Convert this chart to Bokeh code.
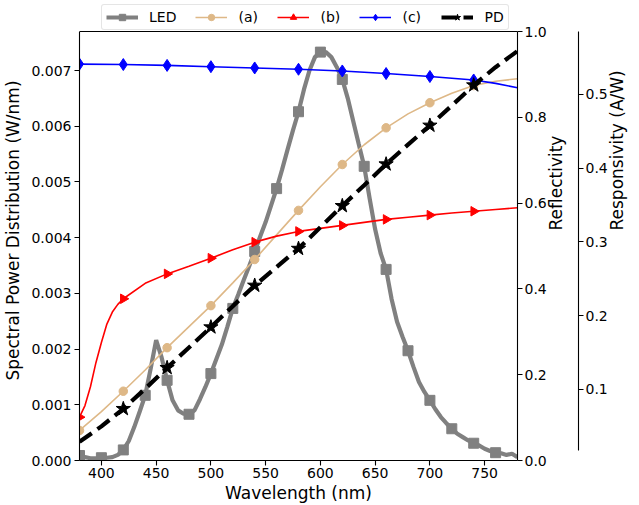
import numpy as np
from bokeh.plotting import figure
from bokeh.models import (Range1d, LinearAxis, FixedTicker, PrintfTickFormatter,
                          Legend, LegendItem, Span)
from bokeh.embed import file_html
from bokeh.resources import INLINE

# ---- data -------------------------------------------------------------
# LED spectral power distribution (W/nm), 5 nm grid
led_wl = list(range(380, 781, 5))
led_spd = [0.00009, 0.00006, 0.00004, 0.00004, 0.00005, 0.00005, 0.00006, 0.00010,
           0.00019, 0.00035, 0.00060, 0.00088, 0.00117, 0.00165, 0.00216, 0.00185,
           0.00144, 0.00108, 0.00090, 0.00084, 0.00083, 0.00090, 0.00110, 0.00132,
           0.00156, 0.00182, 0.00208, 0.00240, 0.00273, 0.00298, 0.00324, 0.00349,
           0.00375, 0.00402, 0.00428, 0.00458, 0.00488, 0.00522, 0.00558, 0.00593,
           0.00626, 0.00666, 0.00700, 0.00724, 0.00733, 0.00733, 0.00724, 0.00706,
           0.00684, 0.00650, 0.00609, 0.00568, 0.00528, 0.00470, 0.00415, 0.00372,
           0.00343, 0.00290, 0.00249, 0.00222, 0.00197, 0.00168, 0.00141, 0.00123,
           0.00108, 0.00092, 0.00078, 0.00067, 0.00057, 0.00048, 0.00042, 0.00036,
           0.00031, 0.00027, 0.00021, 0.00017, 0.00014, 0.00013, 0.00010, 0.00012,
           0.00006]

# Reflectivity of samples (a), (b), (c)
a_wl = [380, 400, 420, 440, 460, 480, 500, 520, 540, 560, 580,
        600, 620, 640, 660, 680, 700, 720, 740, 760, 780]
a_refl = [0.070, 0.114, 0.1615, 0.211, 0.263, 0.312, 0.361, 0.414, 0.4685, 0.526, 0.583,
          0.638, 0.690, 0.736, 0.7755, 0.808, 0.834, 0.856, 0.874, 0.884, 0.890]

b_wl = [380, 385, 390, 395, 400, 405, 410, 415, 420, 440, 460, 480, 500, 520, 540,
        560, 580, 600, 620, 640, 660, 680, 700, 720, 740, 760, 780]
b_refl = [0.101, 0.128, 0.172, 0.228, 0.275, 0.318, 0.346, 0.364, 0.377, 0.413, 0.435,
          0.453, 0.4716, 0.491, 0.509, 0.523, 0.534, 0.541, 0.548, 0.555, 0.562,
          0.567, 0.572, 0.577, 0.581, 0.585, 0.589]

c_wl = [380, 420, 460, 500, 540, 580, 620, 660, 700, 740, 760, 780]
c_refl = [0.924, 0.923, 0.921, 0.918, 0.915, 0.912, 0.908, 0.902, 0.895, 0.887, 0.879, 0.869]

# Photodiode responsivity (A/W)
pd_wl = [380, 400, 420, 440, 460, 480, 500, 520, 540, 560, 580,
         600, 620, 640, 660, 680, 700, 720, 740, 760, 780]
pd_resp = [0.029, 0.050, 0.0738, 0.101, 0.1294, 0.157, 0.1845, 0.213, 0.241, 0.266, 0.291,
           0.320, 0.349, 0.377, 0.4055, 0.432, 0.458, 0.485, 0.5126, 0.537, 0.559]

x_ticks = [400, 450, 500, 550, 600, 650, 700, 750]
spd_ticks = [0.000, 0.001, 0.002, 0.003, 0.004, 0.005, 0.006, 0.007]
refl_ticks = [0.0, 0.2, 0.4, 0.6, 0.8, 1.0]
resp_ticks = [0.1, 0.2, 0.3, 0.4, 0.5]

# axis limits of the boxed data area
SPD_MAX = 0.0077
REFL_MAX = 1.0
RESP_LO, RESP_HI = 0.0037, 0.5854
RESP_SPINE = (0.0173, 0.5854)

# the canvas above the box holds the legend: box is 429 px tall, canvas area 460 px
EXTEND = 460 / 429


def every(wl, vals, step, start):
    """Pick the samples where markers are drawn."""
    wl = np.asarray(wl)
    vals = np.asarray(vals)
    m = ((wl - start) % step == 0) & (wl >= start) & (wl < 780)
    return wl[m].tolist(), vals[m].tolist()


FONT = "DejaVu Sans"
TICK_FS = "14px"
LABEL_FS = "17px"

p = figure(width=639, height=505, output_backend="svg", toolbar_location=None,
           x_range=Range1d(380, 780), y_range=Range1d(0, SPD_MAX * EXTEND),
           min_border_left=75, min_border_right=116, min_border_top=0,
           min_border_bottom=45)
p.xgrid.visible = False
p.ygrid.visible = False
p.outline_line_color = None
p.background_fill_color = "white"

p.extra_y_ranges = {
    "refl": Range1d(0, REFL_MAX * EXTEND),
    "resp": Range1d(RESP_LO, RESP_LO + (RESP_HI - RESP_LO) * EXTEND),
}


def style_axis(ax):
    ax.axis_line_color = "black"
    ax.axis_line_width = 1.1
    ax.major_tick_line_color = "black"
    ax.major_tick_line_width = 1.1
    ax.major_tick_out = 5
    ax.major_tick_in = 0
    ax.minor_tick_line_color = None
    ax.major_label_text_font = FONT
    ax.major_label_text_font_size = TICK_FS
    ax.major_label_text_color = "black"
    ax.major_label_standoff = 3
    ax.axis_label_text_font = FONT
    ax.axis_label_text_font_size = LABEL_FS
    ax.axis_label_text_font_style = "normal"
    ax.axis_label_text_color = "black"
    ax.axis_label_standoff = 2


def read_upwards(ax):
    # right-hand axis titles read from bottom to top; such a title is centred on
    # its standoff point, so it needs a few extra pixels of standoff
    ax.major_label_standoff = 2
    if hasattr(ax, "axis_label_orientation"):
        ax.axis_label_orientation = np.pi / 2
        ax.axis_label_standoff = 6


xa = p.xaxis[0]
style_axis(xa)
xa.ticker = FixedTicker(ticks=x_ticks)
xa.axis_label = "Wavelength (nm)"
xa.major_label_standoff = 2

ya = p.yaxis[0]
style_axis(ya)
ya.ticker = FixedTicker(ticks=spd_ticks)
ya.formatter = PrintfTickFormatter(format="%.3f")
ya.axis_label = "Spectral Power Distribution (W/nm)"
ya.axis_label_standoff = 5
ya.bounds = (0, SPD_MAX)

refl_axis = LinearAxis(y_range_name="refl", axis_label="Reflectivity",
                       bounds=(0, REFL_MAX))
style_axis(refl_axis)
refl_axis.ticker = FixedTicker(ticks=refl_ticks)
refl_axis.formatter = PrintfTickFormatter(format="%.1f")
read_upwards(refl_axis)
p.add_layout(refl_axis, "right")

resp_axis = LinearAxis(y_range_name="resp", axis_label="Responsivity (A/W)",
                       bounds=RESP_SPINE)
style_axis(resp_axis)
resp_axis.ticker = FixedTicker(ticks=resp_ticks)
resp_axis.formatter = PrintfTickFormatter(format="%.1f")
read_upwards(resp_axis)
p.add_layout(resp_axis, "right")

# top edge of the box
p.add_layout(Span(location=SPD_MAX, dimension="width", line_color="black",
                  line_width=1.1))

# ---- series -------------------------------------------------------------
GRAY = "#808080"
TAN = "#deb887"

led_line = p.line(led_wl, led_spd, line_color=GRAY, line_width=4.2)
mx, my = every(led_wl, led_spd, 20, 380)
led_pts = p.scatter(mx, my, marker="square", size=10, fill_color=GRAY, line_color=GRAY)

a_line = p.line(a_wl, a_refl, y_range_name="refl", line_color=TAN, line_width=1.6)
mx, my = every(a_wl, a_refl, 40, 380)
a_pts = p.scatter(mx, my, y_range_name="refl", marker="circle", size=8.5,
                  fill_color=TAN, line_color=TAN)

b_line = p.line(b_wl, b_refl, y_range_name="refl", line_color="red", line_width=1.6)
mx, my = every(b_wl, b_refl, 40, 380)
b_pts = p.scatter(mx, my, y_range_name="refl", marker="triangle", angle=-np.pi / 2,
                  size=9.5, fill_color="red", line_color="red")

c_line = p.line(c_wl, c_refl, y_range_name="refl", line_color="blue", line_width=1.6)
mx, my = every(c_wl, c_refl, 40, 380)
c_pts = p.scatter(mx, my, y_range_name="refl", marker="diamond", size=12,
                  fill_color="blue", line_color="blue")

pd_line = p.line(pd_wl, pd_resp, y_range_name="resp", line_color="black",
                 line_width=4.2, line_dash="15 7")
mx, my = every(pd_wl, pd_resp, 40, 420)
pd_pts = p.scatter(mx, my, y_range_name="resp", marker="star", size=15,
                   fill_color="black", line_color="black")

legend = Legend(items=[
    LegendItem(label="LED", renderers=[led_line, led_pts]),
    LegendItem(label="(a)", renderers=[a_line, a_pts]),
    LegendItem(label="(b)", renderers=[b_line, b_pts]),
    LegendItem(label="(c)", renderers=[c_line, c_pts]),
    LegendItem(label="PD", renderers=[pd_line, pd_pts]),
], orientation="horizontal", location=(22, 430))
legend.label_text_font = FONT
legend.label_text_font_size = TICK_FS
legend.label_text_color = "black"
legend.glyph_width = 32
legend.glyph_height = 16
legend.label_height = 16
legend.label_standoff = 11
legend.spacing = 19
legend.padding = 4
legend.margin = 0
legend.border_line_color = "#cccccc"
legend.border_line_width = 1
legend.background_fill_color = "white"
legend.background_fill_alpha = 0.8
if hasattr(legend, "border_radius"):
    legend.border_radius = 3
p.add_layout(legend)

open("out.html", "w").write(file_html(p, INLINE))
